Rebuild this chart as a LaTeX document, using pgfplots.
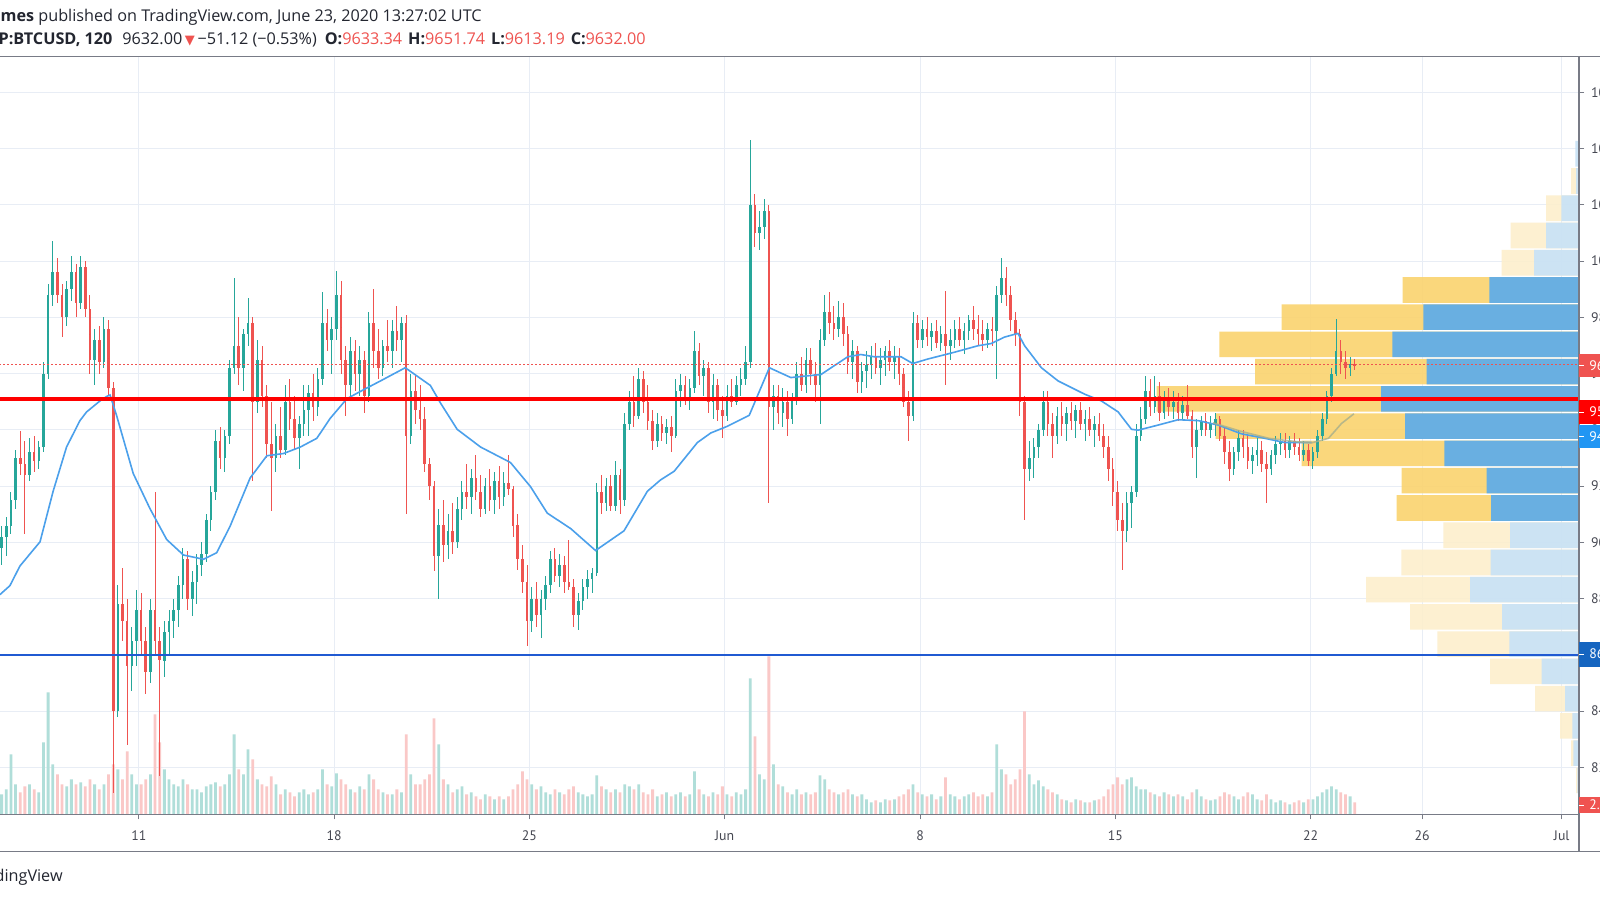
\documentclass[border=0pt]{standalone}
\usepackage{pgfplots}
\pgfplotsset{compat=1.18}
\usepackage{pgfplotstable}
\usepackage{fontspec}
\setmainfont{PT Sans}
\newfontfamily\hdrfont{Open Sans}
\newfontfamily\trifont{DejaVu Sans}
\definecolor{upc}{RGB}{38,166,154}
\definecolor{dnc}{RGB}{239,83,80}
\definecolor{volUp}{RGB}{176,222,217}
\definecolor{volDn}{RGB}{250,200,199}
\definecolor{gridc}{RGB}{232,237,245}
\definecolor{maBlue}{RGB}{75,160,235}
\definecolor{oliv}{RGB}{168,176,140}
\definecolor{vpYel}{RGB}{250,211,110}
\definecolor{vpYelL}{RGB}{253,239,204}
\definecolor{vpBlu}{RGB}{93,172,234}
\definecolor{vpBluL}{RGB}{200,226,246}
\definecolor{lineBlue}{RGB}{32,90,210}
\definecolor{axc}{RGB}{120,123,134}
\definecolor{txt}{RGB}{35,38,48}
\definecolor{lblc}{RGB}{70,72,82}
\definecolor{maLbl}{RGB}{33,150,243}
\definecolor{blLbl}{RGB}{21,101,192}
\newcommand\hdr{\hdrfont\fontsize{8.1}{9.5}\selectfont}
\newcommand\lbl{\fontsize{6.9}{8}\selectfont}

\pgfplotstableread{
k o h l c v
0 8980 9060 8920 9020 20
1 9020 9090 8950 9060 25
2 9060 9180 9030 9150 60
3 9150 9330 9120 9300 30
4 9300 9395 9240 9280 22
5 9280 9360 9030 9240 28
6 9240 9370 9220 9320 30
7 9320 9380 9250 9290 25
8 9290 9360 9260 9340 22
9 9340 9640 9320 9600 72
10 9600 9920 9580 9880 122
11 9880 10070 9840 9960 50
12 9960 10010 9850 9880 40
13 9880 9920 9730 9800 30
14 9800 9930 9770 9900 28
15 9900 10020 9860 9960 35
16 9960 9990 9800 9850 30
17 9850 10020 9830 9980 32
18 9980 10000 9800 9830 28
19 9830 9880 9600 9650 35
20 9650 9760 9560 9720 30
21 9720 9770 9600 9640 25
22 9640 9800 9620 9760 30
23 9760 9790 9520 9550 40
24 9550 9570 8110 8400 50
25 8400 8850 8380 8780 45
26 8780 8910 8650 8720 35
27 8720 8800 8280 8560 63
28 8560 8700 8470 8650 40
29 8650 8830 8560 8760 30
30 8760 8820 8600 8650 30
31 8650 8700 8460 8540 35
32 8540 8800 8500 8760 40
33 8760 9180 8600 8650 100
34 8650 8700 8170 8580 72
35 8580 8720 8520 8680 45
36 8680 8760 8600 8720 35
37 8720 8800 8660 8760 30
38 8760 8880 8700 8850 28
39 8850 8980 8800 8940 35
40 8940 8970 8760 8800 30
41 8800 8900 8740 8860 25
42 8860 8960 8780 8920 25
43 8920 9000 8880 8960 22
44 8960 9100 8930 9080 28
45 9080 9200 9040 9180 30
46 9180 9400 9150 9360 32
47 9360 9410 9260 9300 28
48 9300 9400 9250 9380 30
49 9380 9650 9350 9620 40
50 9620 9940 9600 9700 80
51 9700 9800 9560 9620 45
52 9620 9760 9540 9740 40
53 9740 9870 9700 9780 65
54 9780 9800 9220 9500 55
55 9500 9720 9460 9650 35
56 9650 9700 9480 9520 30
57 9520 9560 9300 9350 28
58 9350 9500 9110 9300 38
59 9300 9420 9250 9380 30
60 9380 9480 9300 9330 20
61 9330 9560 9310 9500 25
62 9500 9580 9400 9440 22
63 9440 9520 9330 9370 18
64 9370 9450 9260 9420 22
65 9420 9560 9380 9470 25
66 9470 9560 9380 9530 20
67 9530 9600 9430 9480 22
68 9480 9620 9450 9580 25
69 9580 9890 9560 9780 45
70 9780 9830 9680 9720 30
71 9720 9800 9600 9760 28
72 9760 9965 9720 9880 41
73 9880 9930 9600 9650 35
74 9650 9700 9450 9560 30
75 9560 9730 9520 9680 25
76 9680 9720 9540 9600 22
77 9600 9700 9520 9650 28
78 9650 9680 9460 9520 25
79 9520 9820 9500 9780 40
80 9780 9900 9620 9680 35
81 9680 9760 9580 9620 25
82 9620 9720 9590 9700 22
83 9700 9790 9640 9680 20
84 9680 9790 9620 9750 20
85 9750 9840 9680 9720 25
86 9720 9800 9640 9780 22
87 9780 9810 9100 9380 80
88 9380 9600 9350 9540 40
89 9540 9600 9420 9470 30
90 9470 9560 9400 9440 30
91 9440 9480 9250 9280 35
92 9280 9300 9150 9200 40
93 9200 9220 8900 8950 96
94 8950 9120 8800 9060 70
95 9060 9150 8930 8990 35
96 8990 9100 8940 9040 30
97 9040 9140 8960 9000 22
98 9000 9160 8980 9120 25
99 9120 9220 9080 9180 28
100 9180 9280 9120 9160 20
101 9160 9260 9100 9230 22
102 9230 9310 9150 9180 18
103 9180 9240 9090 9120 15
104 9120 9230 9100 9200 20
105 9200 9260 9110 9150 18
106 9150 9250 9100 9220 15
107 9220 9270 9120 9160 18
108 9160 9250 9130 9210 15
109 9210 9310 9170 9190 18
110 9190 9200 9020 9060 25
111 9060 9100 8900 8940 30
112 8940 8990 8820 8860 43
113 8860 8920 8630 8720 35
114 8720 8840 8680 8800 30
115 8800 8860 8700 8740 25
116 8740 8830 8660 8800 28
117 8800 8880 8760 8850 22
118 8850 8970 8820 8940 20
119 8940 8980 8860 8880 25
120 8880 8960 8840 8920 22
121 8920 8950 8820 8860 20
122 8860 9010 8830 8840 25
123 8840 8870 8700 8740 28
124 8740 8820 8690 8790 22
125 8790 8870 8760 8840 20
126 8840 8900 8800 8870 18
127 8870 8910 8820 8890 20
128 8890 9210 8880 9180 39
129 9180 9240 9100 9140 28
130 9140 9230 9110 9200 25
131 9200 9240 9110 9130 22
132 9130 9290 9110 9240 25
133 9240 9260 9100 9150 22
134 9150 9460 9130 9420 30
135 9420 9540 9400 9500 28
136 9500 9590 9410 9450 25
137 9450 9620 9440 9580 30
138 9580 9610 9460 9500 22
139 9500 9560 9400 9430 20
140 9430 9470 9330 9360 25
141 9360 9460 9340 9420 18
142 9420 9450 9360 9390 20
143 9390 9440 9350 9410 22
144 9410 9450 9320 9380 18
145 9380 9580 9370 9540 20
146 9540 9600 9480 9560 22
147 9560 9590 9490 9510 18
148 9510 9580 9470 9550 20
149 9550 9750 9530 9680 43
150 9680 9710 9560 9590 25
151 9590 9650 9520 9620 20
152 9620 9640 9460 9500 18
153 9500 9600 9440 9560 22
154 9560 9580 9430 9470 20
155 9470 9520 9370 9450 28
156 9450 9560 9430 9520 20
157 9520 9580 9480 9500 18
158 9500 9590 9490 9560 22
159 9560 9620 9520 9580 20
160 9580 9700 9560 9640 25
161 9640 10430 9620 10200 136
162 10200 10240 10050 10100 78
163 10100 10180 10040 10120 40
164 10120 10220 10080 10180 35
165 10180 10200 9140 9480 158
166 9480 9560 9400 9520 50
167 9520 9560 9420 9460 30
168 9460 9550 9410 9500 28
169 9500 9540 9380 9440 22
170 9440 9530 9420 9510 20
171 9510 9640 9490 9600 25
172 9600 9660 9540 9560 20
173 9560 9690 9530 9650 22
174 9650 9690 9560 9600 20
175 9600 9640 9500 9560 22
176 9560 9760 9420 9720 39
177 9720 9880 9700 9820 35
178 9820 9890 9740 9780 25
179 9780 9840 9720 9760 22
180 9760 9860 9730 9800 20
181 9800 9850 9700 9740 22
182 9740 9770 9600 9640 25
183 9640 9720 9580 9680 20
184 9680 9700 9530 9570 18
185 9570 9640 9530 9610 20
186 9610 9680 9550 9630 15
187 9630 9700 9580 9660 12
188 9660 9710 9600 9620 14
189 9620 9690 9560 9650 12
190 9650 9700 9590 9680 15
191 9680 9720 9610 9640 14
192 9640 9700 9580 9660 15
193 9660 9690 9560 9600 18
194 9600 9620 9480 9500 20
195 9500 9540 9360 9450 25
196 9450 9820 9430 9780 30
197 9780 9810 9690 9720 22
198 9720 9790 9690 9760 20
199 9760 9800 9700 9730 18
200 9730 9780 9680 9750 20
201 9750 9790 9690 9710 15
202 9710 9770 9680 9740 18
203 9740 9895 9560 9700 37
204 9700 9760 9650 9720 20
205 9720 9790 9690 9760 18
206 9760 9800 9700 9720 15
207 9720 9780 9670 9750 18
208 9750 9810 9720 9790 20
209 9790 9840 9720 9760 22
210 9760 9810 9700 9740 18
211 9740 9790 9680 9720 20
212 9720 9780 9690 9760 18
213 9760 9800 9700 9750 22
214 9750 9910 9580 9880 70
215 9880 10010 9850 9940 45
216 9940 9980 9840 9880 40
217 9880 9910 9750 9790 30
218 9790 9820 9700 9740 35
219 9740 9760 9450 9500 45
220 9500 9520 9080 9260 103
221 9260 9360 9220 9300 40
222 9300 9370 9230 9340 30
223 9340 9420 9300 9400 34
224 9400 9540 9380 9500 28
225 9500 9540 9380 9420 25
226 9420 9460 9300 9380 22
227 9380 9480 9350 9450 20
228 9450 9500 9380 9420 15
229 9420 9480 9360 9460 14
230 9460 9500 9400 9430 12
231 9430 9490 9370 9470 15
232 9470 9500 9400 9420 14
233 9420 9470 9360 9440 12
234 9440 9480 9380 9400 12
235 9400 9450 9340 9420 14
236 9420 9460 9360 9380 15
237 9380 9420 9300 9340 18
238 9340 9380 9220 9260 25
239 9260 9300 9130 9180 30
240 9180 9220 9040 9080 37
241 9080 9140 8900 9040 30
242 9040 9180 9000 9140 35
243 9140 9200 9050 9180 37
244 9180 9420 9160 9380 28
245 9380 9480 9360 9440 25
246 9440 9590 9420 9540 25
247 9540 9580 9450 9480 22
248 9480 9590 9460 9520 20
249 9520 9570 9430 9460 18
250 9460 9540 9440 9510 22
251 9510 9550 9450 9480 20
252 9480 9540 9440 9500 18
253 9500 9530 9430 9460 20
254 9460 9520 9440 9490 18
255 9490 9560 9440 9450 15
256 9450 9470 9300 9340 22
257 9340 9440 9230 9400 25
258 9400 9450 9380 9430 18
259 9430 9460 9380 9400 15
260 9400 9450 9370 9420 14
261 9420 9460 9380 9440 15
262 9440 9450 9360 9380 18
263 9380 9410 9280 9320 22
264 9320 9360 9220 9260 20
265 9260 9340 9240 9320 18
266 9320 9400 9290 9370 15
267 9370 9400 9300 9340 18
268 9340 9380 9260 9290 22
269 9290 9340 9245 9310 20
270 9310 9370 9270 9330 15
271 9330 9360 9250 9280 14
272 9280 9320 9140 9260 20
273 9260 9330 9240 9310 15
274 9310 9380 9280 9350 12
275 9350 9390 9310 9360 14
276 9360 9390 9300 9330 12
277 9330 9380 9300 9360 10
278 9360 9390 9310 9340 12
279 9340 9370 9290 9310 14
280 9310 9360 9290 9330 12
281 9330 9350 9270 9290 15
282 9290 9340 9260 9320 15
283 9320 9400 9300 9380 18
284 9380 9460 9360 9440 22
285 9440 9540 9420 9520 25
286 9520 9620 9500 9600 28
287 9600 9795 9590 9680 25
288 9680 9720 9600 9640 22
289 9640 9680 9580 9620 20
290 9620 9660 9590 9633 18
291 9633 9652 9613 9632 12
}\candles

\pgfplotsset{myax/.style={scale only axis, width=789.5pt, height=378.8pt,
  at={(0pt,-28.35pt)}, anchor=north west, xmin=5.025, xmax=61.62,
  axis line style={draw=none}},
  candle/.style={only marks, mark=*, mark size=0pt, mark options={draw=none, fill=none}}}

\begin{document}
\begin{tikzpicture}
\useasboundingbox (0pt,-450pt) rectangle (800pt,0pt);
\clip (0pt,-450pt) rectangle (800pt,0pt);
\fill[white] (0pt,-450pt) rectangle (800pt,0pt);

% grid, ticks and tick labels
\begin{axis}[myax, ymin=8033, ymax=10727, scaled y ticks=false, scaled x ticks=false,
  xtick={10,17,24,31,38,45,52,56,61},
  xticklabels={11,18,25,Jun,8,15,22,26,Jul},
  ytick={8200,8400,8600,8800,9000,9200,9400,9600,9800,10000,10200,10400,10600},
  yticklabels={8200.00,8400.00,8600.00,8800.00,9000.00,9200.00,9400.00,9600.00,9800.00,10000.00,10200.00,10400.00,10600.00},
  grid=major, grid style={color=gridc, line width=0.5pt},
  xtick pos=bottom, ytick pos=right, yticklabel pos=right,
  tick align=outside, major tick length=2.5pt,
  tick style={color=axc, line width=0.5pt},
  xticklabel style={font=\lbl, text=lblc, anchor=center, yshift=-8pt},
  yticklabel style={font=\lbl, text=lblc, anchor=west, xshift=0pt}]
\addplot[draw=none] coordinates {(6,9000)};
\end{axis}

% volume
\begin{axis}[myax, ymin=0, ymax=757.6, ticks=none]
\addplot[ybar, bar width=1.4pt, bar shift=0pt, draw=none, fill=volUp,
  restrict expr to domain={\thisrow{c}-\thisrow{o}}{0:100000}]
  table[x expr=5.0833+\thisrow{k}/6, y=v]{\candles};
\addplot[ybar, bar width=1.4pt, bar shift=0pt, draw=none, fill=volDn,
  restrict expr to domain={\thisrow{c}-\thisrow{o}}{-100000:-0.001}]
  table[x expr=5.0833+\thisrow{k}/6, y=v]{\candles};
\end{axis}

% volume profile
\begin{axis}[myax, xmin=-1579, xmax=0, ymin=8033, ymax=10727, ticks=none]
\addplot[xbar, bar width=12.8pt, bar shift=0pt, draw=none, fill=vpYelL, fill opacity=0.9] coordinates {
(-8,10285.1) (-33,10188.2) (-68.3,10091.3) (-77.3,9994.4)
(-135.7,9025.5) (-177.7,8928.6) (-213,8831.8) (-169,8734.9) (-141.7,8638.0)
(-89,8541.1) (-44,8444.2) (-19,8347.3) (-8,8250.4) (-3,8153.5)};
\addplot[xbar, bar width=12.8pt, bar shift=0pt, draw=none, fill=vpYel, fill opacity=0.9] coordinates {
(-176.3,9897.5) (-297.3,9800.7) (-359.7,9703.8) (-324,9606.9) (-422.3,9510.0)
(-363.3,9413.1) (-277.3,9316.2) (-177.3,9219.3) (-182.3,9122.4)};
\addplot[xbar, bar width=12.8pt, bar shift=0pt, draw=none, fill=vpBluL, fill opacity=0.92] coordinates {
(-3.7,10382) (-3,10285.1) (-17.7,10188.2) (-33,10091.3) (-45,9994.4)
(-69,9025.5) (-88.3,8928.6) (-109,8831.8) (-77,8734.9) (-69.7,8638.0)
(-37.3,8541.1) (-14,8444.2) (-6.7,8347.3) (-5.7,8250.4) (-1.7,8153.5)};
\addplot[xbar, bar width=12.8pt, bar shift=0pt, draw=none, fill=vpBlu, fill opacity=0.92] coordinates {
(-89.7,9897.5) (-155.7,9800.7) (-186.7,9703.8) (-152.3,9606.9) (-198,9510.0)
(-174,9413.1) (-134.7,9316.2) (-92.3,9219.3) (-88,9122.4)};
\end{axis}

% candles, averages, levels
\begin{axis}[myax, ymin=8033, ymax=10727, ticks=none]
\addplot[candle, restrict expr to domain={\thisrow{c}-\thisrow{o}}{0:100000},
  error bars/.cd, y dir=both, y explicit, error mark=none,
  error bar style={draw=upc, line width=0.5pt}]
  table[x expr=5.0833+\thisrow{k}/6, y expr=(\thisrow{h}+\thisrow{l})/2,
        y error expr=(\thisrow{h}-\thisrow{l})/2]{\candles};
\addplot[candle, restrict expr to domain={\thisrow{c}-\thisrow{o}}{-100000:-0.001},
  error bars/.cd, y dir=both, y explicit, error mark=none,
  error bar style={draw=dnc, line width=0.5pt}]
  table[x expr=5.0833+\thisrow{k}/6, y expr=(\thisrow{h}+\thisrow{l})/2,
        y error expr=(\thisrow{h}-\thisrow{l})/2]{\candles};
\addplot[candle, restrict expr to domain={\thisrow{c}-\thisrow{o}}{0:100000},
  error bars/.cd, y dir=both, y explicit, error mark=none,
  error bar style={draw=upc, line width=1.3pt}]
  table[x expr=5.0833+\thisrow{k}/6, y expr=(\thisrow{o}+\thisrow{c})/2,
        y error expr=abs(\thisrow{c}-\thisrow{o})/2]{\candles};
\addplot[candle, restrict expr to domain={\thisrow{c}-\thisrow{o}}{-100000:-0.001},
  error bars/.cd, y dir=both, y explicit, error mark=none,
  error bar style={draw=dnc, line width=1.3pt}]
  table[x expr=5.0833+\thisrow{k}/6, y expr=(\thisrow{o}+\thisrow{c})/2,
        y error expr=abs(\thisrow{c}-\thisrow{o})/2]{\candles};
% moving average
\addplot[maBlue, line width=0.8pt] coordinates {
(5.02,8814) (5.38,8846) (5.74,8916) (6.46,9002) (6.93,9182) (7.41,9339) (7.89,9433)
(8.13,9464) (8.61,9503) (8.85,9519) (8.97,9524) (9.21,9449) (9.80,9245) (10.40,9120)
(11.00,9010) (11.60,8955) (12.32,8940) (12.79,8963) (13.27,9057) (13.99,9229) (14.59,9308)
(15.19,9316) (15.79,9339) (16.38,9370) (16.86,9441) (17.46,9511) (18.06,9543) (18.66,9574)
(19.55,9621) (20.45,9558) (20.81,9496) (21.41,9402) (22.25,9339) (23.32,9284) (24.04,9198)
(24.64,9104) (25.48,9049) (26.37,8971) (27.39,9041) (28.23,9182) (28.70,9222) (29.19,9253)
(30.02,9355) (30.50,9389) (31.10,9413) (31.88,9452) (32.60,9621) (33.37,9586) (34.45,9597)
(35.41,9660) (35.88,9668) (36.36,9660) (37.32,9660) (37.74,9636) (38.28,9652) (39.23,9676)
(40.07,9699) (40.55,9707) (41.03,9730) (41.51,9743) (41.75,9699) (42.35,9621) (42.95,9574)
(43.90,9527) (44.50,9503) (45.10,9464) (45.58,9402) (45.82,9399) (46.53,9417) (47.25,9436)
(47.97,9433) (48.69,9417) (49.52,9386) (50.36,9370) (51.08,9355) (52.04,9355)};
\addplot[oliv, line width=0.8pt, opacity=0.8] coordinates {
(48.5,9425) (49.5,9395) (50.5,9370) (51.5,9358) (52.04,9354) (52.64,9370) (53.11,9423) (53.55,9457)};
% levels
\addplot[dnc, line width=0.5pt, dash pattern=on 1pt off 1pt] coordinates {(5,9632) (62,9632)};
\addplot[red, line width=1.6pt] coordinates {(5,9510) (62,9510)};
\addplot[lineBlue, line width=1.3pt] coordinates {(5,8600) (62,8600)};
\end{axis}

\begin{scope}[x=0.5pt,y=-0.5pt]
% frame
\draw[axc, line width=0.6pt] (0,56.7) -- (1600,56.7);
\draw[axc, line width=0.6pt] (0,814.3) -- (1579,814.3);
\draw[axc, line width=0.6pt] (0,851.7) -- (1600,851.7);
\draw[axc, line width=0.6pt] (1579,56.7) -- (1579,851.7);
% price labels
\fill[dnc] (1579,354) rectangle (1600,377);
\draw[white, line width=0.5pt] (1579,365.5) -- (1584,365.5);
\node[anchor=west, inner sep=0pt, text=white, font=\lbl] at (1589,365.5) {9632.00};
\fill[red] (1579,400) rectangle (1600,424);
\draw[white, line width=0.5pt] (1579,412) -- (1584,412);
\node[anchor=west, inner sep=0pt, text=white, font=\lbl] at (1589,412) {9509.69};
\fill[maLbl] (1579,425) rectangle (1600,448);
\draw[white, line width=0.5pt] (1579,436.5) -- (1584,436.5);
\node[anchor=west, inner sep=0pt, text=white, font=\lbl] at (1589,436.5) {9457.12};
\fill[blLbl] (1579,641.7) rectangle (1600,666.7);
\draw[white, line width=0.5pt] (1579,654) -- (1584,654);
\node[anchor=west, inner sep=0pt, text=white, font=\lbl] at (1589,654) {8600.00};
\fill[dnc] (1579,796.7) rectangle (1600,813.3);
\draw[white, line width=0.5pt] (1579,805) -- (1584,805);
\node[anchor=west, inner sep=0pt, text=white, font=\lbl] at (1589,805) {2.84K};
% header
\node[anchor=east, inner sep=0pt, text=txt, font=\hdr] at (482,17.5)
  {\textbf{Gomes} published on TradingView.com, June 23, 2020 13:27:02 UTC};
\node[anchor=east, inner sep=0pt, text=txt, font=\hdr] at (646,39.5)
  {\textbf{BITSTAMP:BTCUSD, 120}\hspace{5pt}9632.00\,{\color{dnc}\trifont\fontsize{6.5}{7}\selectfont ▼}\,−51.12 (−0.53\%)\hspace{4pt}\textbf{O:}{\color{dnc}9633.34}\hspace{3pt}\textbf{H:}{\color{dnc}9651.74}\hspace{3pt}\textbf{L:}{\color{dnc}9613.19}\hspace{3pt}\textbf{C:}{\color{dnc}9632.00}};
\node[anchor=east, inner sep=0pt, text=txt, font=\hdr] at (63,877.5) {TradingView};
\end{scope}
\end{tikzpicture}
\end{document}
